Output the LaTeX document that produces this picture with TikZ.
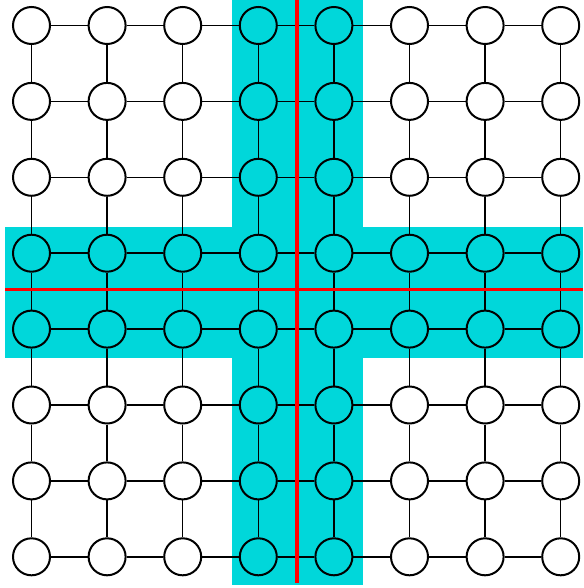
\documentclass[tikz,border=0pt]{standalone}
\definecolor{band}{RGB}{0,215,218}
\definecolor{redline}{RGB}{255,0,0}
\tikzset{
  vtx/.style={circle,draw=black,line width=2pt,minimum size=37pt,inner sep=0pt},
  edge/.style={draw=black,line width=1.5pt},
  cut/.style={draw=redline,line width=3.7pt}
}
\begin{document}
\begin{tikzpicture}[x=1pt,y=-1pt]
\useasboundingbox (0,0) rectangle (583,588);
\fill[band] (231.7,0) rectangle (363,585);
\fill[band] (5,226.5) rectangle (583,357.7);
\foreach \i in {0,...,7}{
  \foreach \j in {0,...,7}{
    \node[vtx] (n\i-\j) at ({31.5+75.6*\i},{25.5+75.9*\j}) {};
  }
}
\foreach \i in {0,...,7}{
  \foreach \j [evaluate=\j as \jn using int(\j+1)] in {0,...,6}{
    \draw[edge] (n\i-\j) -- (n\i-\jn);
    \draw[edge] (n\j-\i) -- (n\jn-\i);
  }
}
\coordinate (vt) at (297.3,0);
\coordinate (vb) at (297.3,583);
\coordinate (hl) at (5,289.5);
\coordinate (hr) at (583,289.5);
\draw[cut] (vt) -- (vb);
\draw[cut] (hl) -- (hr);
\end{tikzpicture}
\end{document}
